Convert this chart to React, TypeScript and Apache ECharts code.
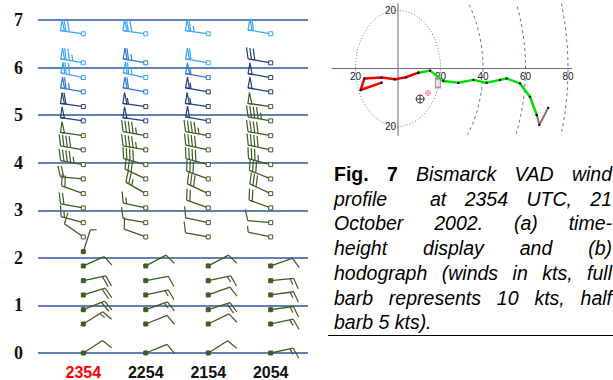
import React, { useEffect, useRef } from 'react';
import * as echarts from 'echarts';

// ---------- DATA ----------
const times = ['2354', '2254', '2154', '2054'];
const heightTicks = [0, 1, 2, 3, 4, 5, 6, 7];
// VAD levels (km)
const heightsKm = [0, 0.61, 0.91, 1.22, 1.52, 1.83, 2.13, 2.44, 2.74, 3.05, 3.35, 3.66, 3.96, 4.27, 4.57, 4.88, 5.18, 5.49, 5.79, 6.10, 6.71];

// wind direction (deg, from) and speed (kts) per level, null = no data
const dir2354 = [57, 58, 68, 73, 78, 66, 18, 305, 285, 280, 290, 275, 280, 280, 278, 278, 278, 280, 282, 280, 278];
const spd2354 = [10, 15, 20, 20, 20, 10, 5, 10, 15, 20, 20, 20, 45, 40, 50, 50, 60, 65, 70, 75, 70];
const rms2354 = [0, 0, 0, 0, 0, 0, 0, 0, 0, 0, 0, 0, 0, 0, 0, 1, 1, 2, 3, 3, 3];

const dir2254 = [68, 68, 70, 77, 79, 62, null, 290, 280, 282, 300, 295, 285, 280, 280, 278, 278, 280, 282, 280, 278];
const spd2254 = [10, 10, 15, 15, 10, 10, null, 10, 10, 15, 25, 30, 40, 45, 45, 50, 55, 60, 65, 65, 70];
const rms2254 = [0, 0, 0, 0, 0, 0, 0, 0, 0, 0, 0, 0, 0, 0, 0, 1, 1, 2, 3, 2, 3];

const dir2154 = [58, 64, 72, 70, 78, 62, null, 280, 282, 290, 295, 290, 285, 282, 280, 280, 278, 280, 280, 280, 278];
const spd2154 = [10, 10, 20, 10, 15, 10, null, 10, 10, 20, 30, 30, 40, 40, 45, 50, 55, 55, 55, 60, 65];
const rms2154 = [0, 0, 0, 0, 0, 0, 0, 0, 0, 0, 0, 0, 0, 0, 0, 1, 1, 1, 2, 3, 3];

const dir2054 = [78, 78, 82, 82, 84, 71, null, 282, 275, 290, 295, 292, 285, 282, 280, 280, 278, 280, 280, 280, 280];
const spd2054 = [15, 15, 15, 15, 15, 10, null, 5, 10, 20, 30, 30, 35, 40, 40, 45, 50, 50, 50, 30, 60];
const rms2054 = [0, 0, 0, 0, 0, 0, 0, 0, 0, 0, 0, 0, 0, 0, 0, 0, 0, 1, 1, 1, 3];

const dirs = [dir2354, dir2254, dir2154, dir2054];
const spds = [spd2354, spd2254, spd2154, spd2054];
const rmss = [rms2354, rms2254, rms2154, rms2054];

// hodograph (u, v in kts)
const hodoRed = [[-7.7, -4.95], [-17.6, -7.5], [-15.8, -3.5], [-7.7, -3.2], [-1.4, -3.8], [3.8, -3.1], [9.6, -1.5]];
const hodoGreen = [[9.6, -1.5], [15.1, -0.8], [21.3, -4.4], [28.4, -5.0], [35.5, -4.0], [41.7, -5.0], [48.0, -4.0], [51.1, -3.5], [57.4, -5.2], [62.1, -9.8], [65.3, -16.1]];
const hodoTop = [[65.3, -16.1], [66.5, -19.5], [70.7, -13.6]];
const ringRadii = [20, 40, 60, 80];
const hodoXTicks = [-20, 20, 40, 60, 80];
const hodoYTicks = [-20, 20];
const stormBox = [[18.8, -5.1]];
const meanWind = [[10.4, -10.6]];
const stormMotion = [[14.1, -8.5]];

const captionLines = [
  ['Fig.', '7', 'Bismarck', 'VAD', 'wind'],
  ['profile', 'at', '2354', 'UTC,', '21'],
  ['October', '2002.', '(a)', 'time-'],
  ['height', 'display', 'and', '(b)'],
  ['hodograph', '(winds', 'in', 'kts,', 'full'],
  ['barb', 'represents', '10', 'kts,', 'half'],
  ['barb', '5', 'kts).'],
];

// ---------- STYLE ----------
const barbColors = ['#3d5b22', '#1f3f78', '#2f78cc', '#39a6f5'];
const SANS = '"Liberation Sans", Arial, sans-serif';
const SERIF = '"Liberation Serif", "Times New Roman", serif';

function renderBarb(params: any, api: any) {
  const t = api.value(0), h = api.value(1), dir = api.value(2), spd = api.value(3), code = api.value(4);
  const [x0, y0] = api.coord([t, h]);
  const col = barbColors[code];
  const a = (dir * Math.PI) / 180;
  const dx = Math.sin(a), dy = -Math.cos(a);
  const px = -dy, py = dx;
  const L = 23, B = 11, step = 3.4;
  const tipX = x0 + dx * L, tipY = y0 + dy * L;
  const children: any[] = [];
  children.push({ type: 'line', shape: { x1: x0, y1: y0, x2: tipX, y2: tipY }, style: { stroke: col, lineWidth: 1.3 } });
  let s = Math.round(spd / 5) * 5;
  const flags = Math.floor(s / 50); s -= flags * 50;
  const full = Math.floor(s / 10); s -= full * 10;
  const half = s >= 5 ? 1 : 0;
  let off = 0;
  for (let k = 0; k < flags; k++) {
    const bx = tipX - dx * off, by = tipY - dy * off;
    children.push({
      type: 'polygon',
      shape: { points: [[bx, by], [bx + px * B, by + py * B], [bx - dx * 4, by - dy * 4]] },
      style: { fill: 'none', stroke: col, lineWidth: 1.2 },
    });
    off += 5.5;
  }
  for (let k = 0; k < full; k++) {
    const bx = tipX - dx * off, by = tipY - dy * off;
    children.push({
      type: 'line',
      shape: { x1: bx, y1: by, x2: bx + px * B + dx * 3.5, y2: by + py * B + dy * 3.5 },
      style: { stroke: col, lineWidth: 1.2 },
    });
    off += step;
  }
  if (half) {
    const bx = tipX - dx * off, by = tipY - dy * off;
    children.push({
      type: 'line',
      shape: { x1: bx, y1: by, x2: bx + px * 6 + dx * 2, y2: by + py * 6 + dy * 2 },
      style: { stroke: col, lineWidth: 1.2 },
    });
  }
  children.push({
    type: 'rect',
    shape: { x: x0 - 2, y: y0 - 2, width: 4, height: 4 },
    style: { fill: h < 2.2 ? col : '#ffffff', stroke: col, lineWidth: 1 },
  });
  return { type: 'group', children };
}

export default function App() {
  const ref = useRef<HTMLDivElement>(null);
  useEffect(() => {
    if (!ref.current) return;
    const chart = echarts.init(ref.current, undefined, { renderer: 'svg' });

    const barbData: any[] = [];
    times.forEach((_, ti) => {
      heightsKm.forEach((h, li) => {
        const d = dirs[ti][li];
        const s = spds[ti][li];
        if (d == null || s == null) return;
        barbData.push([ti, h, d, s, rmss[ti][li]]);
      });
    });

    // hodograph grid geometry
    const hg = { left: 332, top: 4, width: 240, height: 131 };
    const hx = { min: -31.06, max: 81.88 };
    const hy = { min: -23, max: 22.17 };
    const zeroX = hg.left + (hg.width * (0 - hx.min)) / (hx.max - hx.min);
    const zeroY = hg.top + (hg.height * (hy.max - 0)) / (hy.max - hy.min);

    // caption, justified
    const ctx = document.createElement('canvas').getContext('2d') as CanvasRenderingContext2D;
    const fs = 19.5;
    const lx0 = 334, lx1 = 612, ly0 = 174, lgap = 24.7;
    const graphics: any[] = [];
    const placeWords = (words: string[], fonts: string[], x0: number, x1: number, y: number, justify: boolean) => {
      const widths = words.map((w, i) => { ctx.font = fonts[i]; return ctx.measureText(w).width; });
      const total = widths.reduce((a, b) => a + b, 0);
      ctx.font = `italic ${fs}px "Liberation Sans"`;
      const gap = !justify || words.length < 2 ? ctx.measureText(' ').width : (x1 - x0 - total) / (words.length - 1);
      let x = x0;
      words.forEach((w, i) => {
        graphics.push({
          type: 'text', x, y,
          style: { text: w, font: fonts[i], fill: '#000', align: 'left', verticalAlign: 'middle' },
        });
        x += widths[i] + gap;
      });
    };
    captionLines.forEach((words, li) => {
      const y = ly0 + li * lgap;
      const fonts = words.map((_, wi) => (li === 0 && wi < 2 ? `bold ${fs}px "Liberation Sans"` : `italic ${fs}px "Liberation Sans"`));
      const last = li === captionLines.length - 1;
      if (li === 1) {
        // wide gap after the first word, as in the original
        placeWords(words.slice(0, 1), fonts.slice(0, 1), lx0, lx0, y, false);
        placeWords(words.slice(1), fonts.slice(1), 430, lx1, y, true);
      } else {
        placeWords(words, fonts, lx0, lx1, y, !last);
      }
    });
    graphics.push({ type: 'line', shape: { x1: 328, y1: 335.5, x2: 613, y2: 335.5 }, style: { stroke: '#000', lineWidth: 1 } });

    const option: any = {
      animation: false,
      backgroundColor: '#ffffff',
      grid: [
        { left: 38, top: 20, width: 270, height: 333.3 },
        hg,
      ],
      xAxis: [
        {
          gridIndex: 0, type: 'value', min: -0.725, max: 3.597,
          axisLine: { show: false }, axisTick: { show: false }, splitLine: { show: false },
          axisLabel: {
            customValues: [0, 1, 2, 3], margin: 11,
            formatter: (v: number) => (Math.round(v) === 0 ? `{r|${times[0]}}` : `{k|${times[Math.round(v)]}}`),
            rich: {
              r: { color: '#ff0000', fontWeight: 'bold', fontSize: 16, fontFamily: SANS },
              k: { color: '#111', fontWeight: 'bold', fontSize: 16, fontFamily: SANS },
            },
          },
        },
        {
          gridIndex: 1, type: 'value', min: hx.min, max: hx.max, position: 'bottom',
          offset: zeroY - (hg.top + hg.height),
          axisLine: { show: true, onZero: false, lineStyle: { color: '#6e6e6e', width: 1 } },
          axisTick: { show: false }, splitLine: { show: false },
          axisLabel: {
            customValues: hodoXTicks, margin: 3, formatter: (v: number) => String(Math.abs(v)),
            fontSize: 10, color: '#222', fontFamily: SANS, textBorderColor: '#fff', textBorderWidth: 2,
          },
        },
      ],
      yAxis: [
        {
          gridIndex: 0, type: 'value', min: 0, max: 7, interval: 1,
          axisLine: { show: false }, axisTick: { show: false },
          splitLine: { show: true, lineStyle: { color: '#2b5797', width: 1.5 } },
          axisLabel: {
            customValues: heightTicks, margin: 15, fontFamily: SERIF, fontWeight: 'bold', fontSize: 18, color: '#111',
          },
        },
        {
          gridIndex: 1, type: 'value', min: hy.min, max: hy.max, position: 'left',
          offset: hg.left - zeroX,
          axisLine: { show: true, onZero: false, lineStyle: { color: '#b4b4b4', width: 2 } },
          axisTick: { show: false }, splitLine: { show: false },
          axisLabel: {
            customValues: hodoYTicks, margin: 2, formatter: (v: number) => String(Math.abs(v)),
            fontSize: 10, color: '#222', fontFamily: SANS, textBorderColor: '#fff', textBorderWidth: 2,
          },
        },
      ],
      series: [
        {
          type: 'custom', xAxisIndex: 0, yAxisIndex: 0, data: barbData, renderItem: renderBarb, silent: true, clip: false,
        },
        {
          type: 'custom', xAxisIndex: 1, yAxisIndex: 1, data: ringRadii.map((r) => [r]), silent: true, clip: true,
          renderItem: (params: any, api: any) => {
            const r = api.value(0);
            const c = api.coord([0, 0]);
            const sz = api.size([r, r]);
            return {
              type: 'ellipse',
              shape: { cx: c[0], cy: c[1], rx: sz[0], ry: sz[1] },
              style: { fill: 'none', stroke: '#4d7fb5', lineWidth: 1, lineDash: r === 20 ? [1, 2] : [3, 3] },
            };
          },
        },
        {
          type: 'line', xAxisIndex: 1, yAxisIndex: 1, data: hodoRed, symbol: 'circle', symbolSize: 2.5, showSymbol: true,
          lineStyle: { color: '#ee0000', width: 2.5 }, itemStyle: { color: '#111' }, silent: true, z: 3,
        },
        {
          type: 'line', xAxisIndex: 1, yAxisIndex: 1, data: hodoGreen, symbol: 'circle', symbolSize: 2.5, showSymbol: true,
          lineStyle: { color: '#00e000', width: 2.5 }, itemStyle: { color: '#111' }, silent: true, z: 3,
        },
        {
          type: 'line', xAxisIndex: 1, yAxisIndex: 1, data: hodoTop, symbol: 'circle', symbolSize: 2.5, showSymbol: true,
          lineStyle: { color: '#8a7272', width: 2 }, itemStyle: { color: '#111' }, silent: true, z: 3,
        },
        {
          type: 'scatter', xAxisIndex: 1, yAxisIndex: 1, data: stormBox, symbol: 'rect', symbolSize: [5, 9],
          itemStyle: { color: '#e4e4e4', borderColor: '#888', borderWidth: 1.5 }, silent: true, z: 4,
        },
        {
          type: 'custom', xAxisIndex: 1, yAxisIndex: 1, data: meanWind, silent: true, z: 4,
          renderItem: (params: any, api: any) => {
            const [x, y] = api.coord([api.value(0), api.value(1)]);
            return {
              type: 'group', children: [
                { type: 'circle', shape: { cx: x, cy: y, r: 4 }, style: { fill: 'none', stroke: '#333', lineWidth: 1 } },
                { type: 'line', shape: { x1: x - 4, y1: y, x2: x + 4, y2: y }, style: { stroke: '#333', lineWidth: 1 } },
                { type: 'line', shape: { x1: x, y1: y - 4, x2: x, y2: y + 4 }, style: { stroke: '#333', lineWidth: 1 } },
              ],
            };
          },
        },
        {
          type: 'custom', xAxisIndex: 1, yAxisIndex: 1, data: stormMotion, silent: true, z: 4,
          renderItem: (params: any, api: any) => {
            const [x, y] = api.coord([api.value(0), api.value(1)]);
            return {
              type: 'group', children: [
                { type: 'circle', shape: { cx: x, cy: y, r: 2.5 }, style: { fill: 'none', stroke: '#ff6a6a', lineWidth: 0.8 } },
                { type: 'line', shape: { x1: x - 2.5, y1: y, x2: x + 2.5, y2: y }, style: { stroke: '#ff6a6a', lineWidth: 0.8 } },
                { type: 'line', shape: { x1: x, y1: y - 2.5, x2: x, y2: y + 2.5 }, style: { stroke: '#ff6a6a', lineWidth: 0.8 } },
              ],
            };
          },
        },
      ],
      graphic: graphics,
    };
    chart.setOption(option);
    return () => chart.dispose();
  }, []);
  return <div ref={ref} style={{ position: 'absolute', left: 0, top: 0, width: 613, height: 380, background: '#fff' }} />;
}
